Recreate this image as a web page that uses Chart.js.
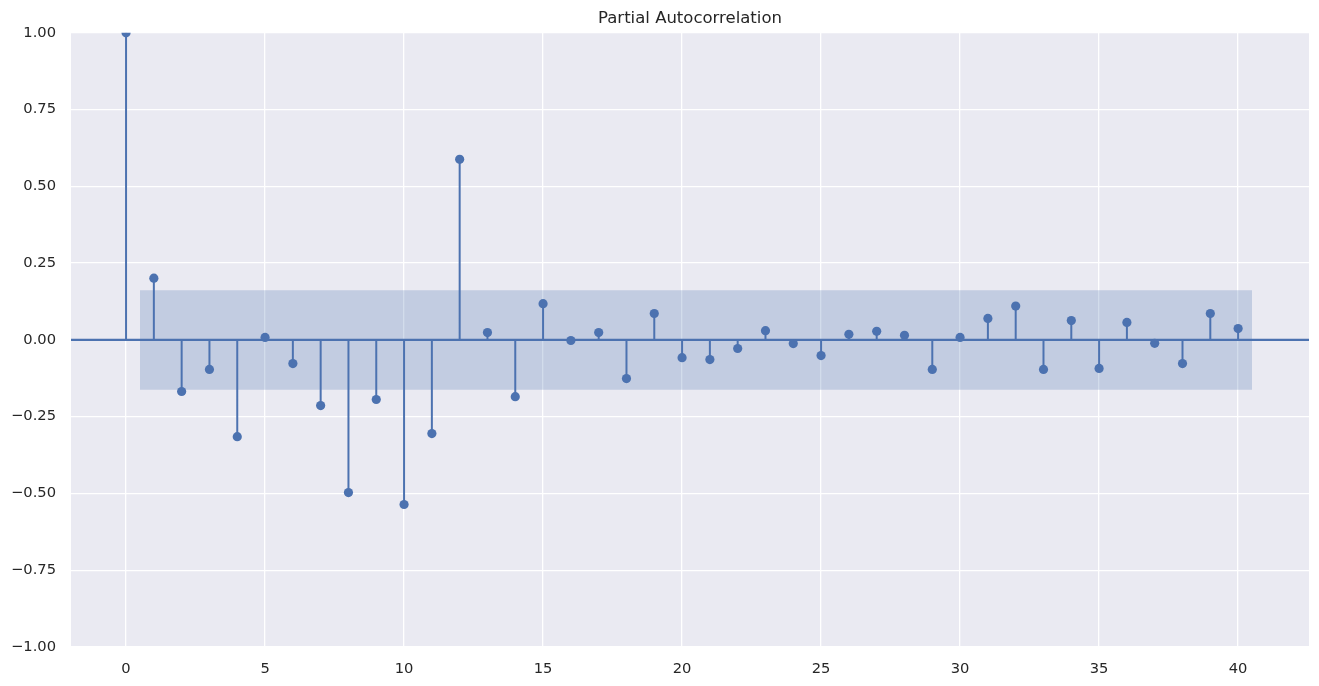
<!DOCTYPE html>
<html>
<head>
<meta charset="utf-8">
<script src="https://cdn.jsdelivr.net/npm/chart.js@4"></script>
<style>
  html, body { margin: 0; padding: 0; background: #fff; }
  #wrap { width: 1319px; height: 686px; }
</style>
</head>
<body>
<div id="wrap"><canvas id="c"></canvas></div>
<script>
const lags = [0, 1, 2, 3, 4, 5, 6, 7, 8, 9, 10, 11, 12, 13, 14, 15, 16, 17, 18, 19, 20,
  21, 22, 23, 24, 25, 26, 27, 28, 29, 30, 31, 32, 33, 34, 35, 36, 37, 38, 39, 40];
const pacf = [1.0, 0.201, -0.168, -0.096, -0.315, 0.008, -0.077, -0.214, -0.497, -0.194, -0.536,
  -0.305, 0.588, 0.024, -0.185, 0.118, -0.002, 0.024, -0.126, 0.086, -0.058,
  -0.064, -0.028, 0.030, -0.012, -0.051, 0.018, 0.028, 0.015, -0.096, 0.008,
  0.070, 0.110, -0.096, 0.063, -0.093, 0.057, -0.011, -0.077, 0.086, 0.037];
const confBand = 0.162;
const bandLags = [0.5, 40.5];
const xTicks = [0, 5, 10, 15, 20, 25, 30, 35, 40];
const yTicks = [-1, -0.75, -0.5, -0.25, 0, 0.25, 0.5, 0.75, 1];

const blue = '#4C72B0';
const xMin = -1.98, xMax = 42.55;

// stems: (lag,0) -> (lag,value), broken by nulls
const stems = [];
lags.forEach((l, i) => {
  stems.push({x: l, y: 0}, {x: l, y: pacf[i]}, {x: l, y: null});
});

const bgPlugin = {
  id: 'plotBg',
  beforeDraw(chart) {
    const {ctx, chartArea: a} = chart;
    ctx.save();
    ctx.fillStyle = '#EAEAF2';
    ctx.fillRect(a.left, a.top, a.right - a.left, a.bottom - a.top);
    ctx.restore();
  }
};

const fmt = v => (v < 0 ? '\u2212' : '') + Math.abs(v).toFixed(2);

new Chart(document.getElementById('c'), {
  type: 'line',
  data: {
    datasets: [
      {
        data: bandLags.map(x => ({x, y: confBand})),
        borderWidth: 0, pointRadius: 0,
        backgroundColor: 'rgba(76,114,176,0.25)',
        fill: '+1', order: 5
      },
      {
        data: bandLags.map(x => ({x, y: -confBand})),
        borderWidth: 0, pointRadius: 0, fill: false, order: 6
      },
      {
        data: stems,
        borderColor: blue, borderWidth: 2, pointRadius: 0,
        spanGaps: false, fill: false, order: 3
      },
      {
        data: [{x: xMin, y: 0}, {x: xMax, y: 0}],
        borderColor: blue, borderWidth: 2.2, pointRadius: 0, fill: false, order: 2
      },
      {
        data: lags.map((l, i) => ({x: l, y: pacf[i]})),
        showLine: false, pointRadius: 4.6, pointBorderWidth: 0,
        pointBackgroundColor: blue, borderColor: blue, order: 1
      }
    ]
  },
  options: {
    responsive: true,
    maintainAspectRatio: false,
    animation: false,
    layout: { padding: { left: 0, right: 10, top: 0, bottom: 0 } },
    plugins: {
      legend: { display: false },
      tooltip: { enabled: false },
      title: {
        display: true,
        fullSize: false,
        text: 'Partial Autocorrelation',
        color: '#262626',
        font: { family: 'DejaVu Sans', size: 16.5, weight: 'normal' },
        padding: { top: 9, bottom: 4 }
      }
    },
    scales: {
      x: {
        type: 'linear', min: xMin, max: xMax,
        afterBuildTicks: s => { s.ticks = xTicks.map(v => ({value: v})); },
        afterFit: s => { s.height = 39; },
        grid: { color: '#ffffff', lineWidth: 1.3, drawTicks: false },
        border: { display: false },
        ticks: {
          color: '#262626', padding: 13,
          font: { family: 'DejaVu Sans', size: 14.7 },
          callback: v => String(v)
        }
      },
      y: {
        type: 'linear', min: -1, max: 1,
        afterBuildTicks: s => { s.ticks = yTicks.map(v => ({value: v})); },
        afterFit: s => { s.width = 71; },
        grid: { color: '#ffffff', lineWidth: 1.3, drawTicks: false },
        border: { display: false },
        ticks: {
          color: '#262626', padding: 15,
          font: { family: 'DejaVu Sans', size: 14.7 },
          callback: v => fmt(v)
        }
      }
    }
  },
  plugins: [bgPlugin]
});
</script>
</body>
</html>
